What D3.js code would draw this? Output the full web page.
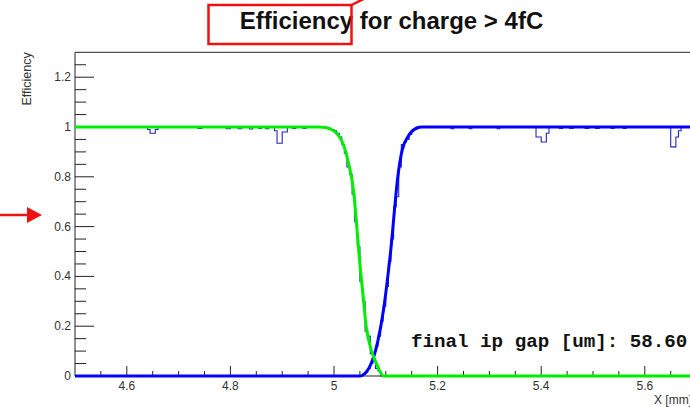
<!DOCTYPE html>
<html><head><meta charset="utf-8">
<script src="https://cdn.jsdelivr.net/npm/d3@7"></script>
<style>body{margin:0;background:#fff;overflow:hidden} svg{display:block}</style>
</head><body>
<svg id="c" width="690" height="407"></svg>
<script>
// ---- data ----
const titleText = "Efficiency for charge > 4fC";
const yTitle = "Efficiency";
const xTitle = "X [mm]";
const infoText = "final ip gap [um]: 58.60";
const xTicks = [4.6, 4.8, 5.0, 5.2, 5.4, 5.6];
const xTickLabels = ["4.6", "4.8", "5", "5.2", "5.4", "5.6"];
const yTicks = [0, 0.2, 0.4, 0.6, 0.8, 1.0, 1.2];
const yTickLabels = ["0", "0.2", "0.4", "0.6", "0.8", "1", "1.2"];

// falling-edge histogram: bin lower edges and contents (last edge closes)
const fallX = [4.5, 4.640, 4.645, 4.655, 4.660, 4.737, 4.745, 4.792, 4.800, 4.815, 4.822, 4.837, 4.843, 4.855, 4.860, 4.868, 4.874,
  4.885, 4.890, 4.900, 4.910, 4.920, 4.926, 4.940, 4.946, 4.985, 4.990, 4.995, 5.000, 5.005, 5.010, 5.015, 5.020, 5.025, 5.030,
  5.035, 5.040, 5.045, 5.050, 5.055, 5.060, 5.065, 5.070, 5.075, 5.080, 5.085, 5.090, 5.8];
const fallY = [1.0, 0.99, 0.975, 0.99, 1.0, 0.994, 1.0, 0.993, 1.0, 0.993, 1.0, 0.992, 1.0, 0.994, 1.0, 0.993, 1.0,
  0.985, 0.935, 0.98, 1.0, 0.994, 1.0, 0.994, 1.0, 0.998, 0.995, 0.99, 0.985, 0.975, 0.96, 0.93, 0.895, 0.84, 0.81,
  0.73, 0.62, 0.52, 0.38, 0.30, 0.18, 0.16, 0.09, 0.07, 0.03, 0.02, 0.0, 0.0];

// rising-edge histogram: transition bins
const riseTransX = [4.5, 5.050, 5.055, 5.060, 5.065, 5.070, 5.075, 5.080, 5.085, 5.090, 5.095, 5.100, 5.105, 5.110, 5.115,
  5.120, 5.125, 5.130, 5.135, 5.140, 5.145, 5.150, 5.155];
const riseTransY = [0.0, 0.0, 0.008, 0.015, 0.03, 0.05, 0.09, 0.12, 0.16, 0.22, 0.28, 0.36, 0.46, 0.55, 0.68,
  0.72, 0.84, 0.93, 0.94, 0.95, 0.97, 0.985, 0.99];
// rising-edge histogram: plateau bins
const risePlatX = [5.160, 5.226, 5.231, 5.261, 5.266, 5.315, 5.320, 5.390, 5.400, 5.410, 5.415, 5.435, 5.441, 5.455, 5.462,
  5.485, 5.492, 5.505, 5.512, 5.535, 5.541, 5.558, 5.564, 5.650, 5.660, 5.665, 5.670, 5.8];
const risePlatY = [1.0, 0.993, 1.0, 0.993, 1.0, 0.993, 1.0, 0.96, 0.94, 0.975, 1.0, 0.994, 1.0, 0.994, 1.0,
  0.994, 1.0, 0.994, 1.0, 0.994, 1.0, 0.994, 1.0, 0.92, 0.96, 0.985, 1.0, 1.0];

// fitted curves
const fitFallX = [4.5, 4.97, 4.985, 4.995, 5.005, 5.0107, 5.018, 5.0266, 5.0382, 5.044, 5.0492, 5.0556, 5.0622, 5.0718, 5.0846, 5.0956, 5.8];
const fitFallY = [1.0, 1.0, 0.997, 0.99, 0.975, 0.96, 0.93, 0.867, 0.735, 0.60, 0.467, 0.334, 0.198, 0.105, 0.037, 0.0, 0.0];
const fitRiseX = [4.5, 5.05, 5.055, 5.062, 5.0718, 5.084, 5.0956, 5.1039, 5.111, 5.1168, 5.1232, 5.1317, 5.1425, 5.1587, 5.17, 5.8];
const fitRiseY = [0.0, 0.0, 0.003, 0.015, 0.05, 0.134, 0.266, 0.40, 0.535, 0.668, 0.80, 0.908, 0.96, 0.995, 1.0, 1.0];

// ---- drawing ----
const svg = d3.select("#c");
const X0 = 75, PXU = 518;
const x = d3.scaleLinear().domain([4.5, 5.8]).range([X0, X0 + 1.3 * PXU]);
const y = d3.scaleLinear().domain([0, 1.3]).range([376, 376 - 1.3 * 249]);
const axisCol = "#222";
const font = "'Liberation Sans', Arial, sans-serif";

// frame
svg.append("line").attr("x1", x(4.5)).attr("x2", 690).attr("y1", y(1.3)).attr("y2", y(1.3)).attr("stroke", axisCol).attr("stroke-width", 1);

// x axis
const xMinor = d3.range(4.55, 5.79, 0.05).filter(v => xTicks.every(t => Math.abs(t - v) > 1e-6));
const gx = svg.append("g");
gx.selectAll(".mn").data(xMinor).join("line")
  .attr("x1", d => x(d)).attr("x2", d => x(d)).attr("y1", y(0)).attr("y2", y(0) - 5)
  .attr("stroke", axisCol);
gx.selectAll(".mj").data(xTicks).join("line")
  .attr("x1", d => x(d)).attr("x2", d => x(d)).attr("y1", y(0)).attr("y2", y(0) - 10)
  .attr("stroke", axisCol);
gx.selectAll("text").data(xTicks).join("text")
  .attr("x", d => x(d)).attr("y", 390).attr("text-anchor", "middle")
  .attr("font-family", font).attr("font-size", 12).attr("fill", "#333")
  .text((d, i) => xTickLabels[i]);
svg.append("line").attr("x1", x(4.5)).attr("x2", 690).attr("y1", y(0)).attr("y2", y(0)).attr("stroke", axisCol);
svg.append("text").attr("x", 654).attr("y", 404).attr("text-anchor", "start")
  .attr("font-family", font).attr("font-size", 12).attr("fill", "#333").text(xTitle);

// y axis
const yMinor = d3.range(0.05, 1.3, 0.05).filter(v => yTicks.every(t => Math.abs(t - v) > 1e-6));
const gy = svg.append("g");
gy.selectAll(".mn").data(yMinor).join("line")
  .attr("x1", x(4.5)).attr("x2", x(4.5) + 11).attr("y1", d => y(d)).attr("y2", d => y(d))
  .attr("stroke", axisCol);
gy.selectAll(".mj").data(yTicks).join("line")
  .attr("x1", x(4.5)).attr("x2", x(4.5) + 19).attr("y1", d => y(d)).attr("y2", d => y(d))
  .attr("stroke", axisCol);
gy.selectAll("text").data(yTicks).join("text")
  .attr("x", x(4.5) - 4).attr("y", d => y(d) + 4).attr("text-anchor", "end")
  .attr("font-family", font).attr("font-size", 12).attr("fill", "#333")
  .text((d, i) => yTickLabels[i]);
svg.append("line").attr("x1", x(4.5)).attr("x2", x(4.5)).attr("y1", y(0)).attr("y2", y(1.3)).attr("stroke", axisCol);
svg.append("text").attr("transform", `translate(31,${y(1.3)}) rotate(-90)`).attr("text-anchor", "end")
  .attr("font-family", font).attr("font-size", 12.5).attr("fill", "#333").text(yTitle);

// histograms
const step = d3.line().x(d => x(d[0])).y(d => y(d[1])).curve(d3.curveStepAfter);
const pairs = (xs, ys) => xs.map((v, i) => [v, ys[i]]);
const riseAll = pairs(riseTransX, riseTransY).concat(pairs(risePlatX, risePlatY));
svg.append("path").attr("d", step(pairs(fallX, fallY))).attr("fill", "none").attr("stroke", "#2626b4").attr("stroke-width", 1.1);
svg.append("path").attr("d", step(riseAll)).attr("fill", "none").attr("stroke", "#2626b4").attr("stroke-width", 1.1);

// fits
const smooth = d3.line().x(d => x(d[0])).y(d => y(d[1])).curve(d3.curveMonotoneX);
svg.append("path").attr("d", smooth(pairs(fitRiseX, fitRiseY))).attr("fill", "none").attr("stroke", "#0000ff").attr("stroke-width", 3);
svg.append("path").attr("d", smooth(pairs(fitFallX, fitFallY))).attr("fill", "none").attr("stroke", "#00ee00").attr("stroke-width", 3);

// info text
svg.append("text").attr("x", 411).attr("y", 347)
  .attr("font-family", "'Liberation Mono', 'Courier New', monospace").attr("font-weight", "bold")
  .attr("font-size", 19.2).attr("fill", "#111").text(infoText);

// title
svg.append("text").attr("x", 391.5).attr("y", 29).attr("text-anchor", "middle")
  .attr("font-family", font).attr("font-weight", "bold").attr("font-size", 24).attr("fill", "#111").text(titleText);

// red annotations
svg.append("rect").attr("x", 208.5).attr("y", 5).attr("width", 143).attr("height", 39)
  .attr("fill", "none").attr("stroke", "#ee1111").attr("stroke-width", 2.5);
svg.append("line").attr("x1", 351.5).attr("y1", 5).attr("x2", 386).attr("y2", -12)
  .attr("stroke", "#ee1111").attr("stroke-width", 2.5);
svg.append("line").attr("x1", 0).attr("y1", 215).attr("x2", 30).attr("y2", 215)
  .attr("stroke", "#ee1111").attr("stroke-width", 2.5);
svg.append("path").attr("d", "M27,207 L42,215 L27,223 Z").attr("fill", "#ee1111");
</script>
</body></html>
